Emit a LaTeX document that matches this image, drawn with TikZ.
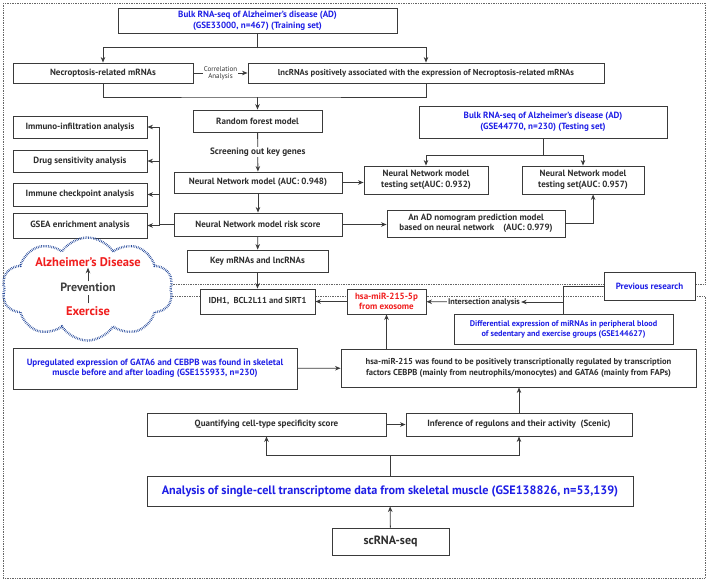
\documentclass[tikz,border=0pt]{standalone}
\usepackage{fontspec}
\setmainfont{PT Sans}
\usetikzlibrary{shapes.symbols, arrows.meta}

\definecolor{linegray}{HTML}{3A3A3A}
\definecolor{txtblue}{HTML}{1E1EE6}
\definecolor{txtred}{HTML}{F01E1E}
\definecolor{cloudblue}{HTML}{24489A}

\tikzstyle{item} = [rectangle, draw=linegray, line width=0.9pt, fill=white, text centered, align=center, inner sep=1pt, text=black!82, font=\fontsize{9}{10.5}\selectfont\bfseries]
\tikzstyle{bluetext} = [text=txtblue]
\tikzstyle{redtext} = [text=txtred]
\tikzstyle{arrow} = [draw=linegray, line width=0.8pt, ->, >={Stealth[length=5.5pt,width=4.5pt]}]
\tikzstyle{line} = [draw=linegray, line width=0.8pt]
\tikzstyle{frame} = [draw=black!60, densely dotted, line width=0.7pt]
\tikzstyle{cloudtext} = [inner sep=1pt, font=\fontsize{12.5}{14}\selectfont\bfseries]

\begin{document}
\begin{tikzpicture}[x=1pt, y=-1pt]
    \useasboundingbox (0,0) rectangle (708,581);

    % dotted frames of the two studies
    \draw [frame] (3,3) rectangle (705,284);
    \draw [frame] (3,296) rectangle (705,578);

    % upper part: AD bulk data
    \node (bulktrain) [item, bluetext, minimum width=279pt, minimum height=25pt] at (257.5,21) {Bulk RNA-seq of Alzheimer's disease (AD)\\(GSE33000, n=467) (Training set)};
    \node (necro)     [item, minimum width=180pt, minimum height=20pt] at (103,73)  {Necroptosis-related mRNAs};
    \node (lnc)       [item, minimum width=356pt, minimum height=20pt, font=\fontsize{8.6}{10}\selectfont\bfseries] at (426,73)  {lncRNAs positively associated with the expression of Necroptosis-related mRNAs};
    \node (rf)        [item, minimum width=129pt, minimum height=22pt] at (257.5,121) {Random forest model};
    \node (nn)        [item, minimum width=168pt, minimum height=21pt] at (258,182.5) {Neural Network model (AUC: 0.948)};
    \node (risk)      [item, minimum width=168pt, minimum height=23pt] at (258,224.5) {Neural Network model risk score};
    \node (key)       [item, minimum width=141pt, minimum height=22pt] at (257.5,261) {Key mRNAs and lncRNAs};
    \node (idh)       [item, minimum width=115pt, minimum height=25pt, font=\fontsize{8.6}{10}\selectfont\bfseries] at (257.5,301.5) {IDH1,\ \ BCL2L11 and SIRT1};

    \node (immuno)     [item, minimum width=134pt, minimum height=22pt] at (80,127)   {Immuno-infiltration analysis};
    \node (drug)       [item, minimum width=134pt, minimum height=22pt] at (80,161)   {Drug sensitivity analysis};
    \node (checkpoint) [item, minimum width=134pt, minimum height=23pt] at (80,194.5) {Immune checkpoint analysis};
    \node (gsea)       [item, minimum width=134pt, minimum height=25pt] at (80,225.5) {GSEA enrichment analysis};

    \node (bulktest) [item, bluetext, minimum width=248pt, minimum height=32pt] at (543,122) {Bulk RNA-seq of Alzheimer's disease (AD)\\(GSE44770, n=230) (Testing set)};
    \node (test1)    [item, minimum width=124pt, minimum height=28pt] at (426,180) {Neural Network model\\testing set(AUC: 0.932)};
    \node (test2)    [item, minimum width=122pt, minimum height=28pt] at (583,180) {Neural Network model\\testing set(AUC: 0.957)};
    \node (nomo)     [item, minimum width=178pt, minimum height=27pt] at (476,223.5) {An AD nomogram prediction model\\based on neural network\quad(AUC: 0.979)};

    \coordinate (s1) at (257.5,47);
    \coordinate (j1) at (257.5,97);
    \coordinate (s2) at (543,155);
    \draw [line]  (bulktrain) -- (s1);
    \draw [arrow] (s1) -| (necro);
    \draw [arrow] (s1) -| (lnc);
    \draw [arrow] (necro) -- node[fill=white, inner sep=1pt, align=center, text=black!80, font=\fontsize{7}{7.5}\selectfont] {Correlation\\Analysis} (lnc);
    \draw [line]  (necro.south) |- (j1) -| (lnc.south);
    \draw [arrow] (j1) -- (rf);
    \draw [arrow] (rf) -- node[fill=white, inner sep=1pt, text=black!82, font=\fontsize{9.2}{10}\selectfont\bfseries] {Screening out key genes} (nn);
    \draw [arrow] (nn) -- (risk);
    \draw [arrow] (risk) -- (key);
    \draw [arrow] (key) -- (idh);
    \draw [arrow] (risk.west) -- ++(-14,0) |- (immuno);
    \draw [arrow] (risk.west) -- ++(-14,0) |- (drug);
    \draw [arrow] (risk.west) -- ++(-14,0) |- (checkpoint);
    \draw [arrow] (risk.west) -- ++(-14,0) |- (gsea);
    \draw [arrow] (nn.east) -- (nn.east -| test1.west);
    \draw [line]  (bulktest) -- (s2);
    \draw [arrow] (s2) -| (test1);
    \draw [arrow] (s2) -| (test2);
    \draw [arrow] (risk.east) -- (risk.east -| nomo.west);
    \draw [arrow] (nomo.east) -| (test2.305);

    % prevention cloud
    \node (cloud) [cloud, cloud puffs=10, cloud puff arc=115, aspect=1.65, draw=cloudblue, fill=white, line width=2.4pt, dash pattern=on 0.6pt off 1.1pt, minimum width=171pt, minimum height=103pt] at (87.5,289) {};
    \node (alz)  [cloudtext, text=txtred]    at (88,262) {Alzheimer's Disease};
    \node (prev) [cloudtext, text=black!75, font=\fontsize{12}{13}\selectfont\bfseries] at (88,287) {Prevention};
    \node (exer) [cloudtext, text=txtred]    at (88,311) {Exercise};
    \draw [arrow] (prev) -- (alz);
    \draw [line, line width=0.7pt, shorten <=2pt, shorten >=2pt] (exer) -- (prev);

    % lower part: exercise and skeletal muscle
    \node (hsa5p)   [item, redtext, minimum width=79pt, minimum height=25pt] at (386.5,301.5) {hsa-miR-215-5p\\from exosome};
    \node (inter)   [fill=white, inner sep=1pt, text=black!82, font=\fontsize{8.2}{9}\selectfont\bfseries] at (484,302) {Intersection analysis};
    \node (prevres) [item, bluetext, minimum width=91pt, minimum height=28pt] at (649.5,286) {Previous research};
    \node (diff)    [item, bluetext, minimum width=219pt, minimum height=30pt, font=\fontsize{8.2}{10}\selectfont\bfseries] at (563.5,329) {Differential expression of miRNAs in peripheral blood\\of sedentary and exercise groups (GSE144627)};
    \node (tf)      [item, minimum width=355pt, minimum height=38pt, font=\fontsize{8.6}{11}\selectfont\bfseries] at (518.5,368) {hsa-miR-215 was found to be positively transcriptionally regulated by transcription\\factors CEBPB (mainly from neutrophils/monocytes) and GATA6 (mainly from FAPs)};
    \node (upreg)   [item, bluetext, minimum width=284pt, minimum height=41pt] at (155,368.5) {Upregulated expression of GATA6 and CEBPB was found in skeletal\\muscle before and after loading (GSE155933, n=230)};
    \node (quant)   [item, minimum width=239pt, minimum height=23pt] at (266.5,424.5) {Quantifying cell-type specificity score};
    \node (infer)   [item, minimum width=226pt, minimum height=23pt] at (519,424.5) {Inference of regulons and their activity\ \ (Scenic)};
    \node (scana)   [item, bluetext, minimum width=486pt, minimum height=30pt, font=\fontsize{12.2}{14}\selectfont\bfseries] at (390,491) {Analysis of single-cell transcriptome data from skeletal muscle (GSE138826, n=53,139)};
    \node (scrna)   [item, minimum width=117pt, minimum height=27pt, font=\fontsize{12}{14}\selectfont\bfseries] at (390.5,541.5) {scRNA-seq};

    \coordinate (j3) at (diff.north |- inter);
    \coordinate (s3) at (390,455);
    \draw [arrow] (hsa5p) -- (idh);
    \draw [arrow] (inter) -- (hsa5p);
    \draw [line]  (prevres.west) -| (diff.north);
    \draw [arrow] (j3) -- (inter);
    \draw [arrow] (tf.north -| hsa5p) -- (hsa5p);
    \draw [arrow] (upreg) -- (tf);
    \draw [arrow] (quant) -- (infer);
    \draw [arrow] (infer.north) -- (infer.north |- tf.south);
    \draw [line]  (scana) -- (s3);
    \draw [arrow] (s3) -| (quant);
    \draw [arrow] (s3) -| (infer);
    \draw [arrow] (scrna) -- (scana);
\end{tikzpicture}
\end{document}
